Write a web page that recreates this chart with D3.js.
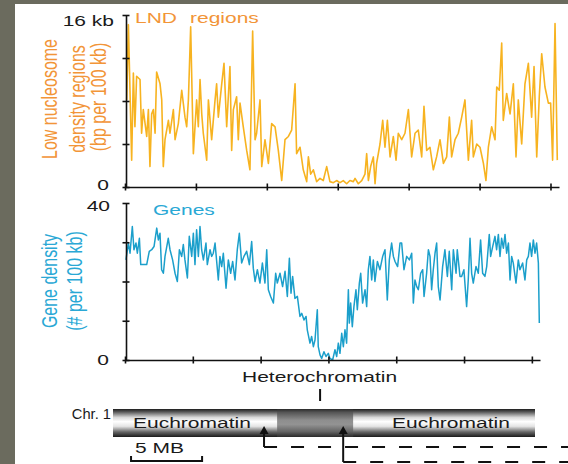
<!DOCTYPE html>
<html>
<head>
<meta charset="utf-8">
<script src="https://cdn.jsdelivr.net/npm/d3@7"></script>
<style>
  body { margin: 0; background: #6b6b5e; }
  svg { display: block; }
  text { font-family: 'Liberation Sans', Arial, sans-serif; }
</style>
</head>
<body>
<div id="chart"></div>
<script>
// chromosome position (Mb) and low nucleosome density (kb per 100 kb)
var lndMb = [0.12,0.24,0.47,0.59,0.70,0.82,1.06,1.17,1.29,1.53,1.65,1.76,1.88,2.00,2.12,2.23,2.47,2.59,2.70,2.82,
  3.06,3.17,3.41,3.53,3.76,4.00,4.23,4.35,4.47,4.63,4.82,5.05,5.17,5.29,5.41,5.52,5.76,5.88,6.11,6.35,
  6.46,6.58,6.82,6.98,7.17,7.40,7.52,7.64,7.87,7.99,8.11,8.34,8.58,8.81,9.00,9.17,9.28,9.52,9.64,9.87,
  10.11,10.34,10.58,10.81,11.05,11.28,11.52,11.75,11.99,12.10,12.34,12.57,12.81,12.93,13.09,13.28,13.51,13.75,13.98,14.22,
  14.45,14.69,14.92,15.16,15.39,15.63,15.86,16.10,16.22,16.45,16.69,16.92,17.04,17.16,17.32,17.51,17.63,17.74,17.98,18.17,
  18.33,18.50,18.69,18.92,19.11,19.27,19.51,19.74,19.98,20.21,20.45,20.68,20.92,21.08,21.27,21.50,21.74,21.97,22.21,22.45,
  22.68,22.87,23.03,23.27,23.50,23.74,23.97,24.21,24.44,24.56,24.80,25.03,25.27,25.45,25.62,25.85,26.09,26.21,26.39,26.56,
  26.67,26.91,27.15,27.38,27.57,27.73,27.97,28.20,28.44,28.67,28.84,29.03,29.21,29.38,29.61,29.85,30.01,30.15,30.32,30.48]
var lndKb = [8.1,15.1,2.5,10.6,5.6,10.3,10,5,7.2,4.7,7.2,1.9,6.8,7.2,5,10.7,9.6,8.1,1.9,4.4,
  6.2,5,7.2,4.4,5.9,9,6.5,5.6,8.1,14.9,3.1,8.1,5.6,10,6.8,5,2.5,8.1,4.4,8.1,
  9.6,6.5,9.6,11.5,5.6,11.2,3.4,7.2,8.4,4.4,7.8,5.6,3.4,1.6,14.5,4.4,5,8.1,1.9,4.4,
  2.2,5.9,5.6,3.4,0.6,4.4,4.7,5.3,9.6,3.1,3.7,1.6,0.5,2.8,1.2,1.6,0.5,0.8,0.6,1.9,
  0.5,0.4,0.6,0.4,0.6,0.3,0.6,0.5,0.8,0.3,0.6,1.2,3.1,0.6,1.9,2.8,0.3,2.2,4,6.2,
  3.7,6.2,2.8,4.7,2.5,5,4.4,5,7.2,2.8,5,5.3,2.8,7.5,3.4,3.7,1.6,2.8,4.4,2.2,
  2.8,6.5,2.8,4.4,5,6.5,8.1,2.5,6.2,2.8,4,3.7,2.2,0.6,3.7,5.6,4.4,9.3,9,13.4,
  6.2,8.7,6.8,9.6,2.8,8.1,4,9.6,11.5,6.5,11.2,2.8,8.4,12.4,9.3,7.8,7.8,2.5,15.2,2.5]

// chromosome position (Mb) and gene density (# per 100 kb)
var geneMb = [0.07,0.25,0.37,0.54,0.66,0.81,0.91,1.06,1.16,1.35,1.60,1.79,1.97,2.14,2.34,2.46,2.58,2.70,2.83,2.95,
  3.19,3.32,3.51,3.69,3.86,4.01,4.18,4.30,4.42,4.60,4.74,4.92,5.04,5.16,5.28,5.41,5.53,5.65,5.78,5.97,
  6.07,6.27,6.39,6.51,6.64,6.76,6.88,7.00,7.13,7.25,7.45,7.62,7.79,7.94,8.11,8.28,8.43,8.60,8.77,8.97,
  9.17,9.34,9.46,9.59,9.76,9.95,10.13,10.32,10.45,10.57,10.74,10.94,11.11,11.23,11.43,11.62,11.80,11.97,12.12,12.24,
  12.36,12.53,12.71,12.90,13.03,13.20,13.35,13.44,13.64,13.76,13.89,14.01,14.18,14.25,14.38,14.50,14.67,14.82,14.99,15.11,
  15.31,15.48,15.61,15.73,15.85,15.98,16.10,16.22,16.34,16.47,16.54,16.64,16.76,16.88,17.03,17.13,17.28,17.38,17.52,17.70,
  17.82,17.94,18.06,18.19,18.31,18.43,18.61,18.80,19.00,19.17,19.34,19.49,19.66,19.79,19.91,20.10,20.28,20.40,20.57,20.77,
  20.97,21.14,21.26,21.38,21.51,21.63,21.80,21.95,22.05,22.24,22.37,22.49,22.61,22.73,22.86,22.98,23.10,23.23,23.42,23.59,
  23.77,23.91,24.09,24.21,24.41,24.50,24.70,24.82,24.99,25.19,25.31,25.44,25.56,25.68,25.88,26.05,26.22,26.37,26.54,26.67,
  26.86,26.96,27.11,27.28,27.40,27.53,27.65,27.77,27.90,28.02,28.14,28.27,28.39,28.51,28.63,28.83,29.00,29.12,29.32,29.49,
  29.62,29.74,29.86,29.98,30.11,30.23,30.35,30.48,30.55]
var geneCount = [25.5,29.8,27.2,34,28.1,29.8,27.2,31,24.3,24.3,24.3,27.7,28.1,28.9,33.6,30.6,32.3,23,22.1,26.4,
  31,28.1,25.5,22.1,20,28.1,26.4,29.4,25.5,20.9,31.5,26.4,32.3,24.3,33.2,26.4,34,28.1,25.5,29.8,
  24.3,28.1,26.4,27.2,29.8,25.1,20.4,26.4,23.8,27.2,18.3,25.5,22.1,25.1,20.4,28.1,32.3,24.7,26.4,27.7,
  24.3,30.2,23.4,20,23,19.6,24.7,19.6,28.1,17.9,16.2,14.5,22.1,19.6,22.1,18.7,22.6,16.2,25.9,17,
  21.3,15.7,16.2,11.1,11.9,10.2,11.1,7.7,4.3,6,3.4,5.1,12.8,3.4,1.3,0.4,2.1,0.9,1.7,0.4,
  0,2.6,0.9,4.3,1.7,6.8,3.4,7.7,4.3,17.9,9.4,14.5,8.5,13.6,17.9,12.8,19.6,22.1,14.5,17.9,
  13.6,23,26.4,20.4,25.5,20,25.1,23,26.4,28.1,15.3,25.5,29.8,26.4,25.1,23.8,29.8,29.8,23,26.4,
  25.5,27.2,14.5,20.4,18.7,17.9,22.1,23,16.2,22.1,28.1,26.4,17.9,23,27.2,29.8,18.7,15.3,23.8,28.1,
  21.3,27.7,17.9,28.1,22.1,28.1,21.3,21.3,23,13.6,20.4,31,22.1,19.6,23.8,22.1,30.6,22.1,21.3,23.8,
  32,26.4,28.9,31.5,28.1,32,26.4,31,28.5,32,27.2,29.8,20.4,26.4,24.7,19.6,25.5,23,24.7,20.4,
  25.5,26.4,29.8,26.4,30.6,27.2,29.8,24.7,9.4]

var lndTicks = [0, 4, 8, 12, 16]
var geneTicks = [0, 10, 20, 30, 40]
var mbTicks = [0, 5, 10, 15, 20, 25, 30]

// chromosome 1 schematic (Mb)
var chrLength = 29.7
var heteroRange = [11.55, 16.9]
var scaleBar = [1.27, 6.27]
var boundaryArrows = [10.63, 16.2]

var ORANGE_LINE = '#f7b320'
var ORANGE_TEXT = '#f29538'
var BLUE_LINE = '#1b9fcb'
var BLUE_TEXT = '#2aa8d5'
var STRETCH = 1.4

var width = 568
var height = 464

var svg = d3
  .select('#chart')
  .append('svg')
  .attr('width', width)
  .attr('height', height)

svg.append('rect').attr('width', width).attr('height', height).attr('fill', '#6b6b5e')
svg.append('rect').attr('x', 15).attr('y', 4).attr('width', width - 15).attr('height', height - 4).attr('fill', '#fff')

// text is stretched horizontally like the original figure
function label (x, y, str, opts) {
  opts = opts || {}
  var sx = opts.sx || STRETCH
  return svg
    .append('text')
    .attr('transform', 'translate(' + x + ',' + y + ') scale(' + sx + ',1)' + (opts.rot ? ' rotate(-90)' : ''))
    .attr('text-anchor', opts.anchor || 'start')
    .attr('font-size', opts.size || 15)
    .attr('fill', opts.color || '#1a1a1a')
    .text(str)
}

// crossing ticks on an axis group
function crossTicks (g, vertical) {
  g.select('.domain').attr('stroke', '#111').attr('stroke-width', 1.6)
  g.selectAll('.tick line')
    .attr('stroke', '#111')
    .attr('stroke-width', 1.6)
    .attr(vertical ? 'x1' : 'y1', -3.5)
    .attr(vertical ? 'x2' : 'y2', 3.5)
  g.selectAll('.tick text').remove()
}

// ---- LND panel
var x1 = d3.scaleLinear().domain([0, 30.6]).range([125, 559])
var y1 = d3.scaleLinear().domain([0, 16]).range([187, 15])

svg.append('path')
  .datum(d3.range(lndMb.length))
  .attr('fill', 'none')
  .attr('stroke', ORANGE_LINE)
  .attr('stroke-width', 1.6)
  .attr('stroke-linejoin', 'round')
  .attr('d', d3.line().x(i => x1(lndMb[i])).y(i => y1(lndKb[i])))

var gx1 = svg.append('g').attr('transform', 'translate(0,187)')
  .call(d3.axisBottom(x1).tickValues(mbTicks).tickSizeOuter(0))
crossTicks(gx1, false)
var gy1 = svg.append('g').attr('transform', 'translate(126,0)')
  .call(d3.axisLeft(y1).tickValues(lndTicks).tickSizeOuter(0))
crossTicks(gy1, true)

label(114, 26, '16 kb', { anchor: 'end' })
label(109, 190, '0', { anchor: 'end' })
label(135, 23, 'LND', { color: ORANGE_TEXT })
label(190, 23, 'regions', { color: ORANGE_TEXT })
label(57, 99, 'Low nucleosome', { rot: true, anchor: 'middle', size: 16, color: ORANGE_TEXT })
label(85, 99, 'density regions', { rot: true, anchor: 'middle', size: 16, color: ORANGE_TEXT })
label(106, 97, '(bp per 100 kb)', { rot: true, anchor: 'middle', size: 16, color: ORANGE_TEXT })

// ---- gene panel
var x2 = d3.scaleLinear().domain([0, 30.6]).range([125, 540])
var y2 = d3.scaleLinear().domain([0, 40]).range([360, 203])

svg.append('path')
  .datum(d3.range(geneMb.length))
  .attr('fill', 'none')
  .attr('stroke', BLUE_LINE)
  .attr('stroke-width', 1.5)
  .attr('stroke-linejoin', 'round')
  .attr('d', d3.line().x(i => x2(geneMb[i])).y(i => y2(geneCount[i])))

var gx2 = svg.append('g').attr('transform', 'translate(0,360)')
  .call(d3.axisBottom(x2).tickValues(mbTicks).tickSizeOuter(0))
crossTicks(gx2, false)
var gy2 = svg.append('g').attr('transform', 'translate(126,0)')
  .call(d3.axisLeft(y2).tickValues(geneTicks).tickSizeOuter(0))
crossTicks(gy2, true)

label(110, 211, '40', { anchor: 'end' })
label(109, 365, '0', { anchor: 'end' })
label(153, 215, 'Genes', { color: BLUE_TEXT })
label(57, 281, 'Gene density', { rot: true, anchor: 'middle', size: 16, color: BLUE_TEXT })
label(82, 281, '(# per 100 kb)', { rot: true, anchor: 'middle', size: 16, color: BLUE_TEXT })

// ---- chromosome schematic
var xc = d3.scaleLinear().domain([0, chrLength]).range([113, 535])
var barTop = 409
var barH = 28

var defs = svg.append('defs')
function tube (id, stops) {
  var grad = defs.append('linearGradient').attr('id', id)
    .attr('x1', 0).attr('y1', 0).attr('x2', 0).attr('y2', 1)
  stops.forEach(s => grad.append('stop').attr('offset', s[0]).attr('stop-color', s[1]))
}
tube('eu', [[0, '#1e1e1e'], [0.1, '#555'], [0.3, '#d8d8d8'], [0.45, '#ffffff'], [0.62, '#e4e4e4'], [0.82, '#666'], [1, '#1a1a1a']])
tube('het', [[0, '#2a2a2a'], [0.12, '#555'], [0.4, '#8e8e8e'], [0.55, '#939393'], [0.8, '#666'], [1, '#2a2a2a']])

svg.append('rect')
  .attr('x', xc(0)).attr('y', barTop)
  .attr('width', xc(chrLength) - xc(0)).attr('height', barH)
  .attr('fill', 'url(#eu)')
svg.append('rect')
  .attr('x', xc(heteroRange[0])).attr('y', barTop)
  .attr('width', xc(heteroRange[1]) - xc(heteroRange[0])).attr('height', barH)
  .attr('fill', 'url(#het)')

label(111, 419, 'Chr. 1', { size: 14, sx: 1.05, anchor: 'end' })
label(133, 428, 'Euchromatin')
label(392, 428, 'Euchromatin')
label(242, 382, 'Heterochromatin')

var heteroMid = (heteroRange[0] + heteroRange[1]) / 2 + 0.35
svg.append('line')
  .attr('x1', xc(heteroMid)).attr('x2', xc(heteroMid))
  .attr('y1', 389).attr('y2', 401)
  .attr('stroke', '#111').attr('stroke-width', 2)

// scale bar
label(135, 453, '5 MB')
svg.append('path')
  .attr('d', 'M' + xc(scaleBar[0]) + ',456V461H' + xc(scaleBar[1]) + 'V456')
  .attr('fill', 'none').attr('stroke', '#111').attr('stroke-width', 2)

// boundary arrows with dashed leaders
var leaderY = [447, 462]
boundaryArrows.forEach((mb, i) => {
  var ax = xc(mb)
  var ly = leaderY[i]
  svg.append('path')
    .attr('d', 'M' + ax + ',' + ly + 'V431')
    .attr('stroke', '#111').attr('stroke-width', 2).attr('fill', 'none')
  svg.append('path')
    .attr('d', 'M' + ax + ',426L' + (ax - 4.5) + ',434L' + (ax + 4.5) + ',434Z')
    .attr('fill', '#111')
  svg.append('line')
    .attr('x1', ax).attr('x2', width)
    .attr('y1', ly).attr('y2', ly)
    .attr('stroke', '#111').attr('stroke-width', 2)
    .attr('stroke-dasharray', '13,14')
})
</script>
</body>
</html>
